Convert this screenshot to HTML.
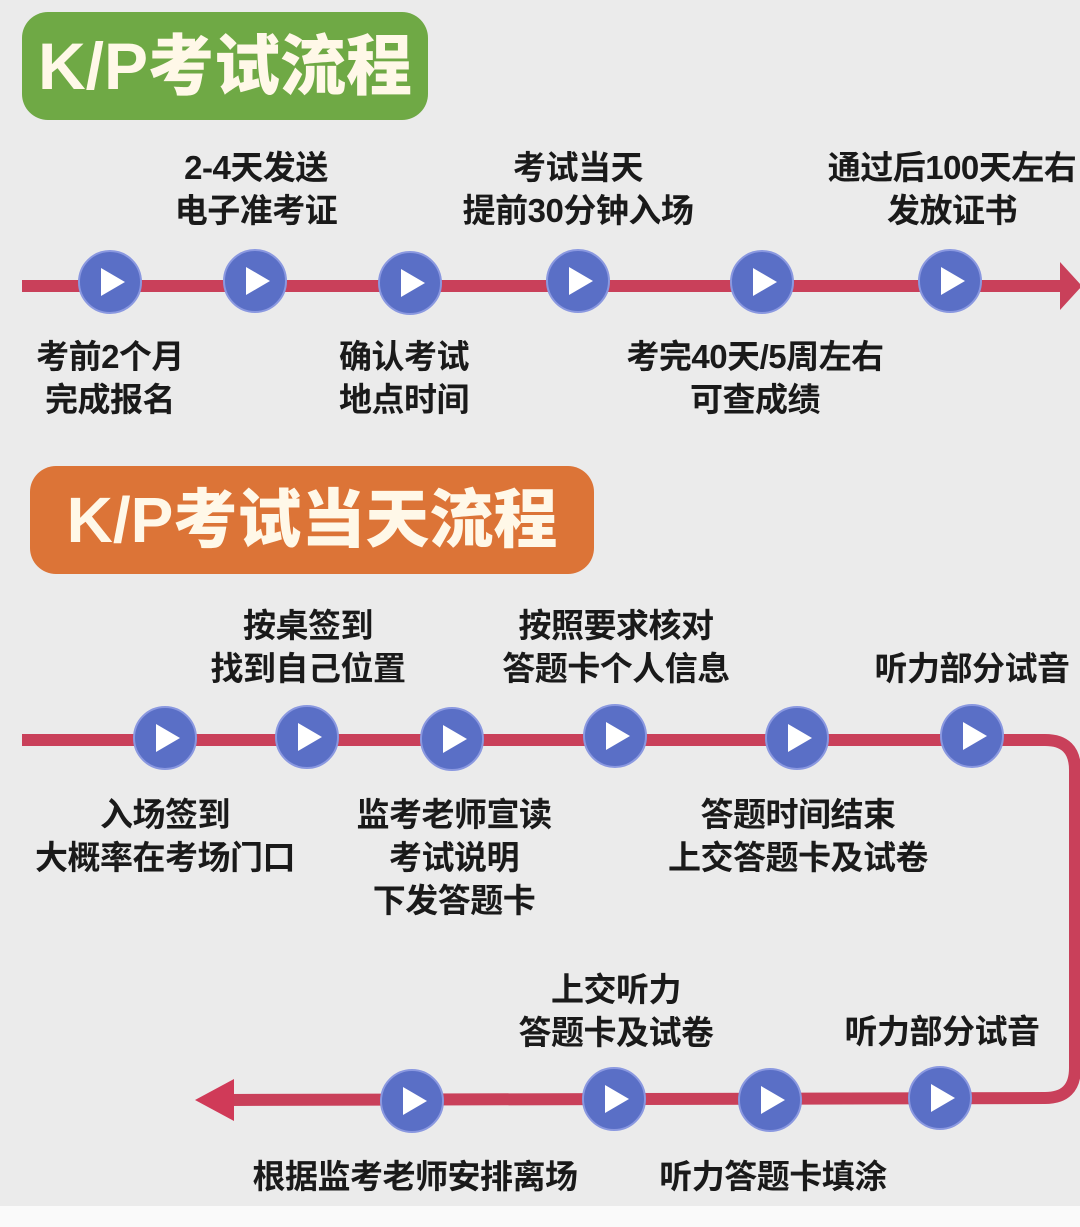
<!DOCTYPE html>
<html><head><meta charset="utf-8"><style>
html,body{margin:0;padding:0}
body{width:1080px;height:1227px;background:#ebebeb;position:relative;overflow:hidden;font-family:"Liberation Sans","Noto Sans CJK SC",sans-serif}
.box{position:absolute;border-radius:26px;color:#fff8e8;font-weight:900;font-size:66px;line-height:108px;text-align:center;letter-spacing:0px}
.t{position:absolute;width:440px;text-align:center;font-size:33px;font-weight:bold;line-height:43px;color:#1a1a1a;white-space:nowrap;letter-spacing:-0.5px}
svg{position:absolute;left:0;top:0}
</style></head><body>
<div style="position:absolute;left:0;top:1206px;width:1080px;height:21px;background:#fafafa"></div>
<div class="box" style="left:22px;top:12px;width:406px;height:108px;background:#6fa945">K/P考试流程</div>
<div class="box" style="left:30px;top:466px;width:564px;height:108px;background:#dc7437;font-size:64px">K/P考试当天流程</div>
<svg width="1080" height="1227">
<defs>
<g id="c"><circle r="31" fill="#5a6fc6" stroke="#8a98e0" stroke-width="2"/><polygon points="-9,-14 -9,14 15,0" fill="#fff"/></g>
</defs>
<g stroke="#c9405a" stroke-width="12" fill="none">
<line x1="22" y1="286" x2="1062" y2="286"/>
<path d="M22 740 L1045 740 Q1075 740 1075 770 L1075 1068 Q1075 1098 1045 1098 L228 1100"/>
</g>
<polygon points="1082,286 1060,262 1060,310" fill="#c9405a"/>
<polygon points="195,1100 234,1079 234,1121" fill="#d03a58"/>
<use href="#c" x="110" y="282"/><use href="#c" x="255" y="281"/><use href="#c" x="410" y="283"/>
<use href="#c" x="578" y="281"/><use href="#c" x="762" y="282"/><use href="#c" x="950" y="281"/>
<use href="#c" x="165" y="738"/><use href="#c" x="307" y="737"/><use href="#c" x="452" y="739"/>
<use href="#c" x="615" y="736"/><use href="#c" x="797" y="738"/><use href="#c" x="972" y="736"/>
<use href="#c" x="412" y="1101"/><use href="#c" x="614" y="1099"/><use href="#c" x="770" y="1100"/><use href="#c" x="940" y="1098"/>
</svg>
<div class="t" style="left:36px;top:146px">2-4天发送<br>电子准考证</div>
<div class="t" style="left:358px;top:146px">考试当天<br>提前30分钟入场</div>
<div class="t" style="left:732px;top:146px">通过后100天左右<br>发放证书</div>
<div class="t" style="left:-110px;top:335px">考前2个月<br>完成报名</div>
<div class="t" style="left:184px;top:335px">确认考试<br>地点时间</div>
<div class="t" style="left:535px;top:335px">考完40天/5周左右<br>可查成绩</div>
<div class="t" style="left:88px;top:604px">按桌签到<br>找到自己位置</div>
<div class="t" style="left:396px;top:604px">按照要求核对<br>答题卡个人信息</div>
<div class="t" style="left:752px;top:647px">听力部分试音</div>
<div class="t" style="left:-55px;top:793px">入场签到<br>大概率在考场门口</div>
<div class="t" style="left:234px;top:793px">监考老师宣读<br>考试说明<br>下发答题卡</div>
<div class="t" style="left:578px;top:793px">答题时间结束<br>上交答题卡及试卷</div>
<div class="t" style="left:396px;top:968px">上交听力<br>答题卡及试卷</div>
<div class="t" style="left:722px;top:1010px">听力部分试音</div>
<div class="t" style="left:195px;top:1155px">根据监考老师安排离场</div>
<div class="t" style="left:553px;top:1155px">听力答题卡填涂</div>
</body></html>
